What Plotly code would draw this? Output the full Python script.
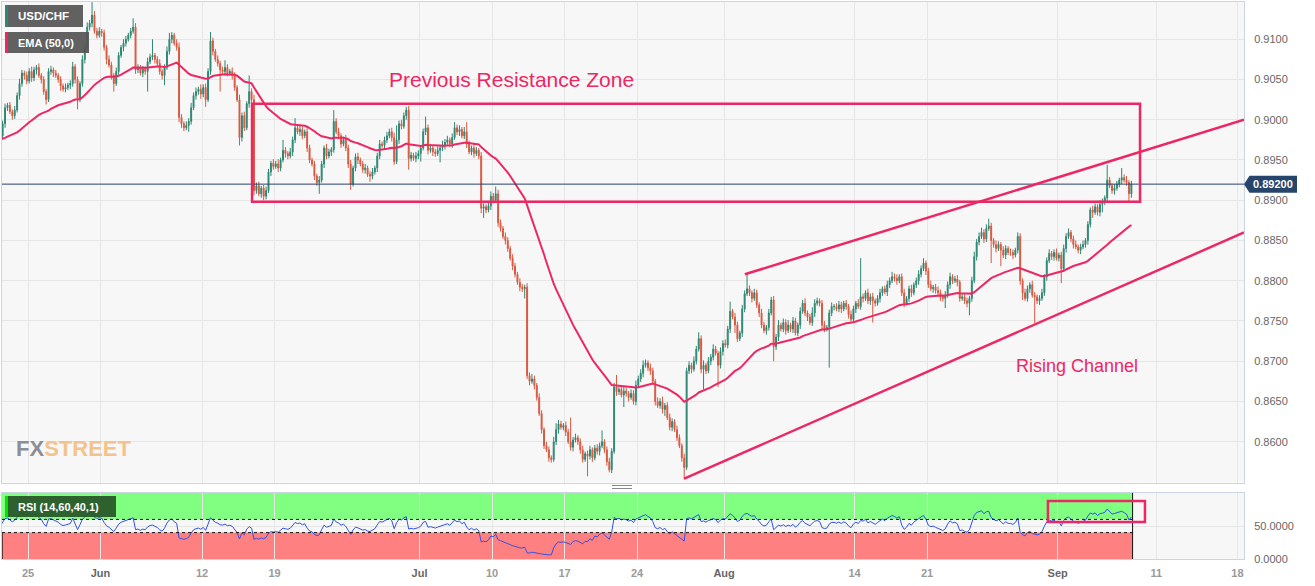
import plotly.graph_objects as go

# ---------------- data (prices in pips, 4h candles) ----------------
PAIR = "USD/CHF"
OPEN_FIRST = 8970
CLOSES = [
    8980, 8995, 9015, 9018, 9010, 9005, 9012, 9030, 9045, 9058,
    9055, 9048, 9060, 9052, 9062, 9065, 9055, 9050, 9035, 9025,
    9060, 9062, 9058, 9055, 9050, 9042, 9038, 9040, 9043, 9045,
    9066, 9050, 9025, 9045, 9075, 9090, 9115, 9120, 9130, 9110,
    9105, 9110, 9108, 9090, 9075, 9068, 9055, 9045, 9060, 9080,
    9090, 9095, 9100, 9105, 9110, 9115, 9062, 9065, 9058, 9063,
    9060, 9072, 9078, 9080, 9075, 9070, 9060, 9055, 9065, 9085,
    9100, 9105, 9095, 9090, 9003, 8995, 8990, 8993, 8998, 9015,
    9030, 9035, 9038, 9032, 9040, 9025, 9060, 9098, 9085, 9075,
    9070, 9062, 9060, 9065, 9058, 9060, 9055, 9040, 9025, 8978,
    9005, 8990, 9020, 9035, 9025, 8912, 8918, 8908, 8915, 8905,
    8912, 8935, 8946, 8942, 8945, 8940, 8950, 8962, 8958, 8955,
    8960, 8975, 8990, 8985, 8988, 8980, 8985, 8965, 8950, 8945,
    8930, 8922, 8925, 8945, 8965, 8955, 8960, 8963, 8998, 8985,
    8980, 8970, 8975, 8965, 8945, 8920, 8940, 8954, 8950, 8945,
    8938, 8940, 8932, 8930, 8935, 8940, 8955, 8970, 8968, 8975,
    8980, 8985, 8978, 8948, 8975, 8995, 8992, 9005, 9012, 8952,
    8956, 8952, 8955, 8958, 8965, 8985, 8990, 8962, 8965, 8960,
    8958, 8962, 8965, 8968, 8972, 8975, 8970, 8978, 8990, 8985,
    8988, 8980, 8985, 8970, 8960, 8965, 8958, 8962, 8955, 8890,
    8892, 8888, 8893, 8905, 8900, 8908, 8872, 8865, 8855, 8850,
    8840, 8828, 8818, 8808, 8798, 8792, 8790, 8792, 8682, 8675,
    8678, 8670, 8655, 8635, 8615, 8595, 8590, 8580, 8578, 8600,
    8615, 8622, 8618, 8620, 8612, 8600, 8593, 8602, 8605, 8600,
    8590, 8578, 8585, 8582, 8590, 8580, 8592, 8588, 8595, 8600,
    8590, 8575, 8565, 8588, 8668, 8662, 8665, 8658, 8663, 8660,
    8655, 8660, 8650, 8670, 8678, 8685, 8695, 8698, 8692, 8688,
    8675, 8650, 8645, 8650, 8640, 8645, 8630, 8618, 8625, 8615,
    8605, 8595, 8580, 8568, 8688, 8695, 8690, 8700, 8715, 8728,
    8690, 8695, 8688, 8700, 8705, 8715, 8710, 8695, 8712, 8722,
    8720, 8740, 8762, 8755, 8745, 8728, 8735, 8765, 8784, 8790,
    8785, 8778, 8785, 8770, 8760, 8745, 8738, 8742, 8760, 8776,
    8718, 8730, 8745, 8740, 8748, 8738, 8745, 8740, 8750, 8735,
    8745, 8762, 8772, 8760, 8755, 8748, 8760, 8772, 8775, 8772,
    8745, 8740, 8742, 8760, 8768, 8768, 8765, 8770, 8765, 8772,
    8768, 8758, 8752, 8765, 8772, 8768, 8780, 8778, 8785, 8775,
    8780, 8775, 8772, 8778, 8785, 8790, 8786, 8795, 8800, 8805,
    8803, 8800, 8805, 8785, 8772, 8778, 8790, 8785, 8795, 8800,
    8808, 8815, 8822, 8812, 8795, 8790, 8792, 8788, 8785, 8780,
    8778, 8782, 8795, 8805, 8800, 8802, 8798, 8778, 8780, 8775,
    8772, 8778, 8800, 8830, 8848, 8855, 8860, 8852, 8865, 8868,
    8850, 8845, 8840, 8845, 8838, 8832, 8840, 8835, 8835, 8832,
    8838, 8855, 8800, 8785, 8778, 8790, 8795, 8782, 8780, 8775,
    8778, 8785, 8805, 8825, 8834, 8830, 8835, 8828, 8832, 8815,
    8840, 8855, 8860, 8852, 8845, 8842, 8838, 8842, 8845, 8850,
    8870, 8888, 8885, 8892, 8885, 8895, 8898, 8903, 8925, 8918,
    8912, 8915, 8920, 8925, 8928, 8925, 8922, 8908, 8920,
]
UP_WICK = [
    3, 4, 5, 3, 4, 3, 5, 4, 6, 4,
    3, 5, 4, 6, 4, 3, 5, 3, 4, 3,
    4, 5, 3, 4, 3, 4, 3, 5, 3, 4,
    6, 3, 4, 3, 5, 4, 6, 4, 16, 5,
    4, 5, 3, 4, 3, 5, 4, 3, 5, 4,
    3, 5, 4, 3, 4, 11, 5, 4, 3, 4,
    3, 5, 4, 20, 3, 4, 5, 3, 4, 6,
    8, 4, 3, 5, 6, 4, 3, 5, 4, 6,
    4, 5, 3, 6, 4, 5, 4, 11, 4, 3,
    5, 3, 4, 9, 4, 3, 5, 4, 3, 6,
    4, 5, 3, 20, 4, 6, 4, 5, 3, 4,
    5, 4, 3, 5, 4, 6, 3, 13, 4, 3,
    5, 4, 12, 3, 5, 4, 3, 6, 4, 3,
    4, 3, 5, 4, 3, 5, 4, 3, 14, 4,
    5, 3, 4, 6, 4, 5, 3, 4, 5, 3,
    4, 5, 3, 4, 5, 3, 4, 5, 3, 4,
    5, 4, 5, 6, 18, 4, 5, 4, 4, 5,
    4, 3, 5, 4, 3, 4, 14, 4, 5, 3,
    4, 5, 3, 6, 4, 5, 3, 5, 7, 4,
    5, 3, 6, 12, 4, 3, 5, 4, 3, 5,
    4, 3, 5, 6, 4, 9, 5, 4, 3, 5,
    4, 3, 5, 4, 3, 5, 4, 3, 5, 4,
    6, 4, 3, 5, 4, 3, 5, 4, 3, 6,
    8, 5, 4, 3, 5, 4, 30, 4, 5, 3,
    4, 5, 3, 4, 5, 3, 4, 5, 4, 14,
    3, 4, 5, 4, 5, 15, 4, 3, 5, 4,
    3, 5, 4, 6, 4, 5, 6, 4, 3, 5,
    4, 3, 5, 4, 6, 3, 4, 5, 4, 3,
    5, 4, 3, 5, 4, 5, 3, 6, 4, 8,
    4, 6, 3, 5, 4, 6, 4, 3, 5, 4,
    5, 4, 12, 3, 5, 4, 3, 5, 4, 19,
    4, 3, 5, 4, 3, 5, 4, 3, 5, 4,
    5, 4, 6, 3, 5, 4, 6, 3, 5, 4,
    3, 5, 4, 6, 3, 4, 7, 5, 4, 3,
    4, 5, 3, 4, 5, 3, 4, 5, 4, 3,
    4, 3, 5, 4, 3, 5, 48, 4, 3, 5,
    4, 5, 3, 4, 5, 3, 4, 5, 4, 6,
    4, 5, 3, 4, 5, 3, 4, 5, 3, 4,
    5, 4, 6, 3, 4, 5, 3, 4, 5, 4,
    3, 5, 4, 5, 3, 4, 5, 3, 4, 5,
    4, 3, 5, 6, 4, 5, 6, 4, 5, 9,
    4, 3, 5, 4, 3, 5, 4, 3, 5, 4,
    3, 5, 4, 3, 5, 4, 3, 5, 4, 3,
    4, 5, 3, 4, 5, 3, 4, 5, 3, 4,
    5, 4, 5, 3, 4, 5, 3, 4, 5, 3,
    4, 3, 5, 4, 3, 5, 4, 3, 19, 4,
    3, 5, 4, 3, 12, 4, 5, 3, 4,
]
DN_WICK = [
    4, 3, 5, 4, 3, 5, 4, 3, 5, 4,
    5, 4, 3, 5, 4, 6, 3, 5, 4, 6,
    3, 4, 5, 3, 4, 6, 3, 4, 3, 5,
    4, 5, 12, 3, 4, 5, 3, 4, 5, 3,
    4, 3, 5, 4, 6, 3, 5, 10, 3, 4,
    3, 5, 4, 3, 4, 3, 5, 4, 3, 5,
    4, 25, 3, 4, 5, 3, 4, 5, 12, 3,
    4, 5, 3, 4, 6, 5, 4, 3, 8, 4,
    3, 5, 4, 6, 4, 9, 3, 4, 5, 3,
    4, 27, 3, 5, 4, 3, 5, 4, 3, 10,
    5, 4, 3, 5, 4, 6, 4, 3, 5, 5,
    4, 3, 5, 4, 3, 5, 4, 3, 5, 4,
    3, 5, 4, 3, 5, 4, 3, 5, 4, 3,
    5, 4, 14, 3, 5, 4, 3, 5, 4, 3,
    4, 5, 3, 4, 5, 7, 3, 4, 5, 3,
    4, 5, 3, 7, 4, 3, 5, 4, 3, 5,
    4, 3, 5, 4, 3, 5, 4, 3, 5, 14,
    4, 3, 5, 4, 10, 3, 4, 5, 3, 5,
    4, 3, 15, 4, 5, 3, 4, 5, 3, 4,
    5, 3, 4, 5, 3, 4, 5, 3, 4, 6,
    12, 4, 3, 5, 4, 3, 5, 4, 3, 5,
    4, 3, 5, 4, 3, 5, 4, 12, 4, 5,
    3, 5, 4, 3, 5, 4, 3, 5, 4, 3,
    4, 5, 3, 4, 5, 3, 4, 5, 3, 4,
    5, 4, 3, 25, 4, 5, 3, 4, 5, 3,
    4, 5, 3, 4, 3, 5, 4, 3, 15, 4,
    5, 3, 4, 5, 3, 4, 5, 3, 4, 5,
    4, 5, 3, 4, 5, 8, 3, 4, 5, 3,
    4, 3, 5, 15, 3, 4, 5, 3, 4, 3,
    5, 25, 4, 3, 5, 4, 3, 27, 4, 5,
    3, 4, 5, 3, 10, 4, 3, 5, 4, 3,
    4, 5, 3, 4, 5, 4, 3, 5, 4, 3,
    18, 4, 5, 3, 4, 5, 3, 4, 5, 3,
    4, 5, 3, 4, 5, 3, 4, 5, 3, 4,
    5, 4, 3, 50, 4, 5, 3, 4, 5, 3,
    4, 5, 3, 4, 5, 3, 4, 5, 3, 4,
    5, 27, 4, 3, 5, 4, 3, 5, 4, 3,
    4, 5, 3, 4, 5, 3, 4, 5, 3, 4,
    5, 4, 3, 5, 4, 3, 5, 4, 3, 5,
    4, 12, 3, 5, 4, 3, 5, 4, 3, 4,
    5, 15, 4, 3, 5, 4, 3, 5, 4, 3,
    28, 4, 5, 3, 20, 4, 5, 3, 4, 5,
    3, 4, 5, 9, 3, 4, 5, 3, 33, 4,
    5, 3, 4, 5, 3, 4, 5, 3, 4, 18,
    4, 5, 3, 4, 5, 3, 4, 5, 3, 4,
    5, 4, 7, 3, 4, 5, 10, 4, 5, 3,
    4, 5, 3, 4, 5, 3, 4, 11, 5,
]
assert len(CLOSES) == len(UP_WICK) == len(DN_WICK), (len(CLOSES), len(UP_WICK), len(DN_WICK))

CANDLES_PER_DAY = 6
DAYS_BEFORE_FIRST_TICK = 2          # May 23, May 24 before "25"
TICK_DAYS = [0, 5, 12, 17, 27, 32, 37, 42, 48, 57, 62, 71, 77.8, 83.4]
TICK_TEXT = ["25", "Jun", "12", "19", "Jul", "10", "17", "24", "Aug", "14", "21", "Sep", "11", "18"]
MONTHS = {"Jun", "Jul", "Aug", "Sep"}
PRICE_TICKS = [0.8600, 0.8650, 0.8700, 0.8750, 0.8800, 0.8850, 0.8900, 0.8950, 0.9000, 0.9050, 0.9100]
RSI_TICKS = [0, 50]
CURRENT_PRICE = 0.8920
EMA_PERIOD = 50
EMA_SEED = 0.8975
RSI_PERIOD, RSI_UPPER, RSI_LOWER = 14, 60, 40

RESIST_ZONE = dict(x0=15.45, x1=76.68, y0=0.8898, y1=0.9020)
CHANNEL_UPPER = [(49.43, 0.8808), (83.85, 0.9000)]
CHANNEL_LOWER = [(45.25, 0.8554), (83.85, 0.8860)]
RSI_BOX = dict(x0=70.33, x1=77.02, y0=56, y1=88)
LABEL_RESIST = ("Previous Resistance Zone", 33.37, 0.9050)
LABEL_CHANNEL = ("Rising Channel", 72.33, 0.8694)

# ---------------- derived ----------------
closes = [c / 10000 for c in CLOSES]
opens = [OPEN_FIRST / 10000] + closes[:-1]
highs = [max(o, c) + u / 10000 for o, c, u in zip(opens, closes, UP_WICK)]
lows = [min(o, c) - d / 10000 for o, c, d in zip(opens, closes, DN_WICK)]
xs = [-DAYS_BEFORE_FIRST_TICK + (i + 0.5) / CANDLES_PER_DAY for i in range(len(closes))]
x_end = -DAYS_BEFORE_FIRST_TICK + len(closes) / CANDLES_PER_DAY

alpha = 2 / (EMA_PERIOD + 1)
ema = []
e = EMA_SEED
for c in closes:
    e = e + alpha * (c - e)
    ema.append(e)

deltas = [0.0] + [closes[i] - closes[i - 1] for i in range(1, len(closes))]
seed = sum(abs(d) for d in deltas[1:RSI_PERIOD + 1]) / RSI_PERIOD / 2
ag, al = seed, seed
rsi = []
for d in deltas:
    ag = (ag * (RSI_PERIOD - 1) + max(d, 0)) / RSI_PERIOD
    al = (al * (RSI_PERIOD - 1) + max(-d, 0)) / RSI_PERIOD
    rsi.append(100 - 100 / (1 + ag / al) if al > 0 else 100)

# ---------------- layout constants ----------------
W, H = 1315, 586
ML, MR, MT, MB = 2, 71, 2, 27
PW, PH = W - ML - MR, H - MT - MB
def px_x(p): return (p - ML) / PW
def px_y(p): return (H - MB - p) / PH

X_RANGE = [-1.793, 83.85]
Y_RANGE = [0.85493, 0.91463]
RSI_RANGE = [0, 100.5]
PINK = "#ed2763"
GREEN = "#2d8773"
RED = "#d95840"
NAVY = "#27446b"
GRID = "#e6e6e6"
BORDER = "#ccd5e6"
FONT = "Liberation Sans, Arial, sans-serif"

fig = go.Figure()
fig.add_trace(go.Candlestick(
    x=xs, open=opens, high=highs, low=lows, close=closes,
    increasing=dict(line=dict(color=GREEN, width=1), fillcolor=GREEN),
    decreasing=dict(line=dict(color=RED, width=1), fillcolor=RED),
    whiskerwidth=0, xaxis="x", yaxis="y", showlegend=False, hoverinfo="skip",
))
fig.add_trace(go.Scatter(x=xs, y=ema, mode="lines", line=dict(color=PINK, width=2),
                         xaxis="x", yaxis="y", showlegend=False, hoverinfo="skip"))
fig.add_trace(go.Scatter(x=xs, y=rsi, mode="lines", line=dict(color="#2f52e8", width=1),
                         xaxis="x2", yaxis="y2", showlegend=False, hoverinfo="skip"))

ticktext = []
for t in TICK_TEXT:
    if t in MONTHS:
        ticktext.append(f"<b><span style='color:#666666'>{t}</span></b>")
    else:
        ticktext.append(f"<b>{t}</b>")

axis_common = dict(range=X_RANGE, showgrid=True, gridcolor=GRID, gridwidth=1, zeroline=False,
                   showline=True, mirror=True, linecolor=BORDER, linewidth=1,
                   tickvals=TICK_DAYS, ticktext=ticktext, ticks="",
                   tickfont=dict(family=FONT, size=11, color="#9a9a9a"))

shapes = []
# RSI zones
shapes.append(dict(type="rect", xref="x2", yref="y2", x0=X_RANGE[0] - 1, x1=x_end, y0=RSI_UPPER, y1=RSI_RANGE[1] + 1,
                   fillcolor="#80ff80", line=dict(width=0), layer="below"))
shapes.append(dict(type="rect", xref="x2", yref="y2", x0=X_RANGE[0] - 1, x1=x_end, y0=-1, y1=RSI_LOWER,
                   fillcolor="#ff8080", line=dict(width=0), layer="below"))
for lvl in (RSI_UPPER, RSI_LOWER):
    shapes.append(dict(type="line", xref="x2", yref="y2", x0=X_RANGE[0], x1=x_end, y0=lvl, y1=lvl,
                       line=dict(color="#111111", width=1, dash="dot")))
shapes.append(dict(type="line", xref="x2", yref="y2", x0=x_end, x1=x_end, y0=0, y1=RSI_RANGE[1],
                   line=dict(color="#111111", width=1)))
shapes.append(dict(type="line", xref="x2", yref="y2", x0=X_RANGE[0] + 0.01, x1=X_RANGE[0] + 0.01, y0=0, y1=RSI_LOWER,
                   line=dict(color="#111111", width=1)))
# current price line
shapes.append(dict(type="line", xref="paper", yref="y", x0=0, x1=1, y0=CURRENT_PRICE, y1=CURRENT_PRICE,
                   line=dict(color=NAVY, width=1)))
# resistance zone
shapes.append(dict(type="rect", xref="x", yref="y", **RESIST_ZONE, line=dict(color=PINK, width=2.5),
                   fillcolor="rgba(0,0,0,0)"))
for (a, b) in (CHANNEL_UPPER, CHANNEL_LOWER):
    shapes.append(dict(type="line", xref="x", yref="y", x0=a[0], y0=a[1], x1=b[0], y1=b[1],
                       line=dict(color=PINK, width=2.5)))
shapes.append(dict(type="rect", xref="x2", yref="y2", **RSI_BOX, line=dict(color=PINK, width=2.5),
                   fillcolor="rgba(0,0,0,0)"))
# legend boxes
def box(x0, x1, y0, y1, color):
    shapes.append(dict(type="rect", xref="paper", yref="paper", x0=px_x(x0), x1=px_x(x1),
                       y0=px_y(y1), y1=px_y(y0), fillcolor=color, line=dict(width=0)))
box(5, 8, 5, 27, GREEN)
box(8, 83, 5, 27, "rgba(85,85,85,0.93)")
box(5, 8, 32, 53, PINK)
box(8, 89, 32, 53, "rgba(85,85,85,0.93)")
box(5, 8, 496, 517, "#00e400")
box(8, 116, 496, 517, "rgba(40,88,40,0.95)")
# grip
for gy in (485.5, 488.5):
    shapes.append(dict(type="line", xref="paper", yref="paper", x0=px_x(612), x1=px_x(632),
                       y0=px_y(gy), y1=px_y(gy), line=dict(color="#888888", width=1)))
# price tag pointer
yp = CURRENT_PRICE
dy = 8.5 * (Y_RANGE[1] - Y_RANGE[0]) / (482.5 - 2)
shapes.append(dict(type="path", xref="paper", yref="y",
                   path=f"M {px_x(1244)},{yp} L {px_x(1249.5)},{yp + dy} L {px_x(1297)},{yp + dy} "
                        f"L {px_x(1297)},{yp - dy} L {px_x(1249.5)},{yp - dy} Z",
                   fillcolor=NAVY, line=dict(width=0)))

annotations = [
    dict(text=LABEL_RESIST[0], x=LABEL_RESIST[1], y=LABEL_RESIST[2], xref="x", yref="y", showarrow=False,
         font=dict(family=FONT, size=21, color=PINK)),
    dict(text=LABEL_CHANNEL[0], x=LABEL_CHANNEL[1], y=LABEL_CHANNEL[2], xref="x", yref="y", showarrow=False,
         font=dict(family=FONT, size=18, color=PINK)),
    dict(text=f"<b>{PAIR}</b>", x=px_x(16), y=px_y(16), xref="paper", yref="paper", xanchor="left",
         yanchor="middle", showarrow=False, font=dict(family=FONT, size=11.5, color="white")),
    dict(text=f"<b>EMA ({EMA_PERIOD},0)</b>", x=px_x(16), y=px_y(43), xref="paper", yref="paper", xanchor="left",
         yanchor="middle", showarrow=False, font=dict(family=FONT, size=11, color="white")),
    dict(text=f"<b>RSI ({RSI_PERIOD},{RSI_UPPER},{RSI_LOWER},1)</b>", x=px_x(16), y=px_y(507), xref="paper",
         yref="paper", xanchor="left", yanchor="middle", showarrow=False,
         font=dict(family=FONT, size=11, color="white")),
    dict(text="<b><span style='color:#8b8e95'>FX</span><span style='color:#f2c38c'>STREET</span></b>",
         x=px_x(14), y=px_y(449), xref="paper", yref="paper", xanchor="left", yanchor="middle",
         showarrow=False, font=dict(family=FONT, size=22)),
    dict(text=f"<b>{CURRENT_PRICE:.5f}</b>", x=px_x(1273), y=CURRENT_PRICE, xref="paper", yref="y",
         xanchor="center", yanchor="middle", showarrow=False, font=dict(family=FONT, size=11, color="white")),
]

fig.update_layout(
    width=W, height=H, autosize=False,
    margin=dict(l=ML, r=MR, t=MT, b=MB),
    paper_bgcolor="white", plot_bgcolor="#f7f7f7",
    showlegend=False, boxgap=0.45,
    xaxis=dict(**axis_common, anchor="y", showticklabels=False, rangeslider=dict(visible=False)),
    xaxis2=dict(**axis_common, anchor="y2", matches="x", showticklabels=True, ticklabelstandoff=4),
    yaxis=dict(domain=[px_y(482.5), 1], range=Y_RANGE, side="right", tickvals=PRICE_TICKS,
               tickformat=".4f", showgrid=True, gridcolor=GRID, zeroline=False, showline=True, mirror=True,
               linecolor=BORDER, ticks="", ticklabelstandoff=7,
               tickfont=dict(family=FONT, size=11, color="#666666")),
    yaxis2=dict(domain=[0, px_y(492.7)], range=RSI_RANGE, side="right", tickvals=RSI_TICKS,
                tickformat=".4f", showgrid=True, gridcolor=GRID, zeroline=False, showline=True, mirror=True,
                linecolor=BORDER, ticks="", ticklabelstandoff=7,
                tickfont=dict(family=FONT, size=11, color="#666666")),
    shapes=shapes, annotations=annotations,
)

fig.write_html("out.html", config={"displayModeBar": False},
               post_script="document.body.style.margin='0';document.body.style.overflow='hidden';")
